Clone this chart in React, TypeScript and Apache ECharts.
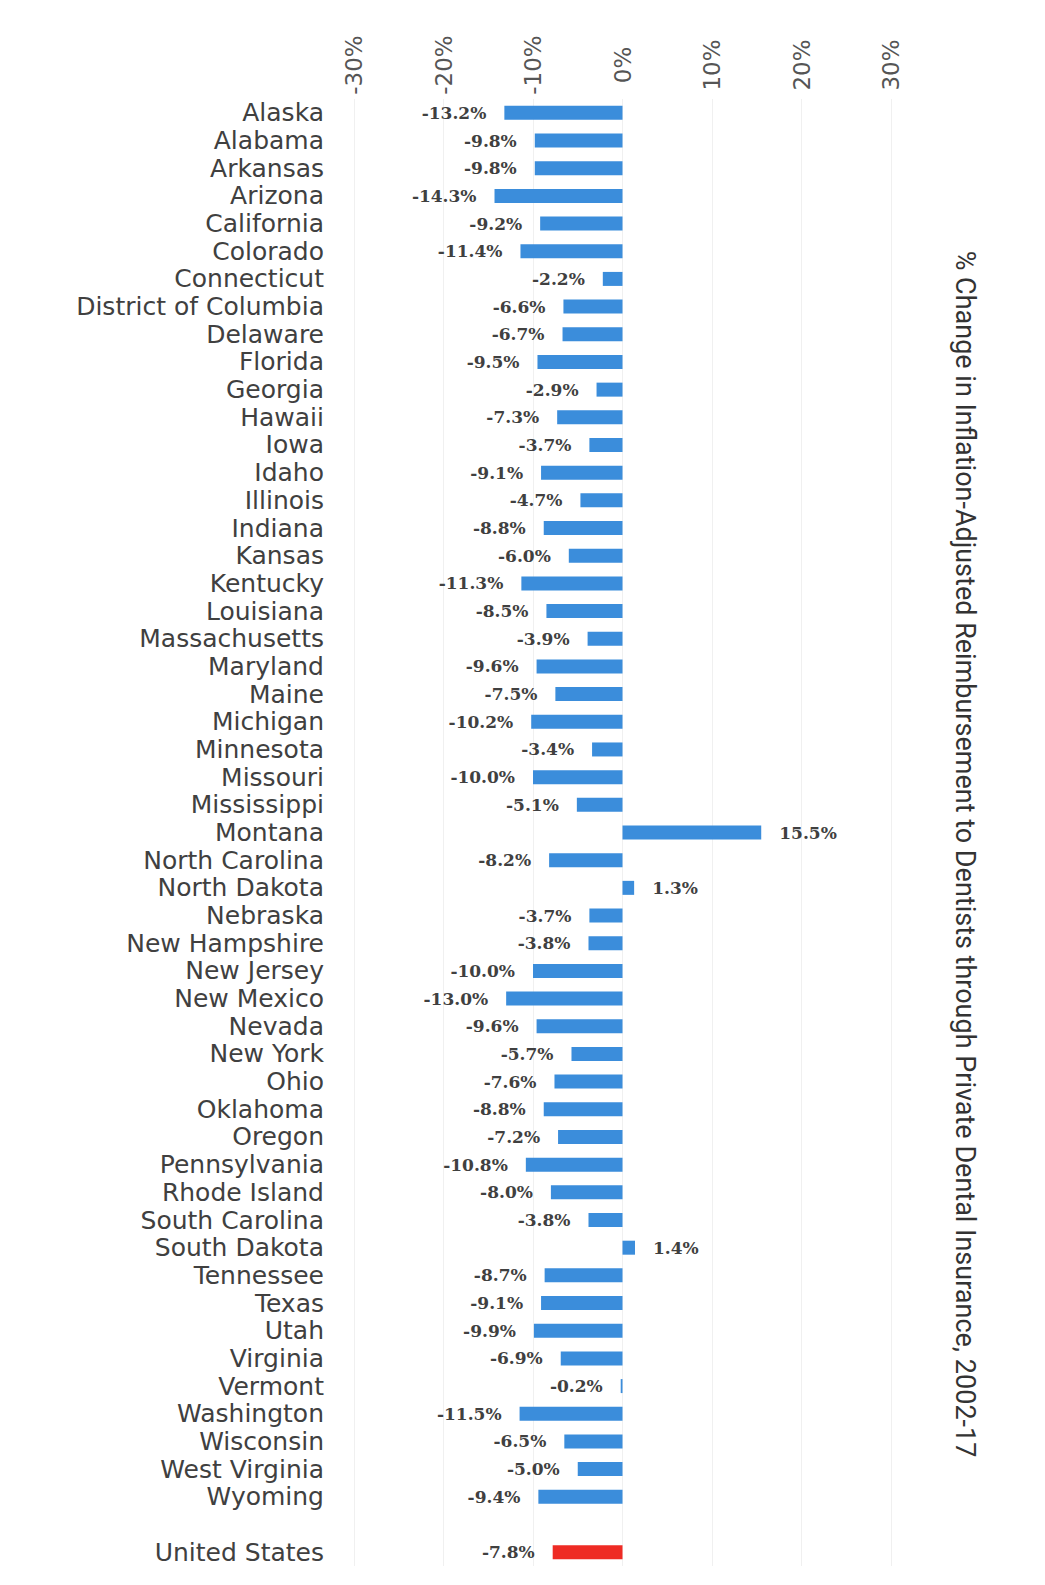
import React, { useEffect, useRef } from "react";
import * as echarts from "echarts";

const states: string[] = [
  "Alaska", "Alabama", "Arkansas", "Arizona", "California", "Colorado", "Connecticut",
  "District of Columbia", "Delaware", "Florida", "Georgia", "Hawaii", "Iowa", "Idaho",
  "Illinois", "Indiana", "Kansas", "Kentucky", "Louisiana", "Massachusetts", "Maryland",
  "Maine", "Michigan", "Minnesota", "Missouri", "Mississippi", "Montana", "North Carolina",
  "North Dakota", "Nebraska", "New Hampshire", "New Jersey", "New Mexico", "Nevada",
  "New York", "Ohio", "Oklahoma", "Oregon", "Pennsylvania", "Rhode Island",
  "South Carolina", "South Dakota", "Tennessee", "Texas", "Utah", "Virginia", "Vermont",
  "Washington", "Wisconsin", "West Virginia", "Wyoming",
];

const stateValues: number[] = [
  -13.2, -9.8, -9.8, -14.3, -9.2, -11.4, -2.2,
  -6.6, -6.7, -9.5, -2.9, -7.3, -3.7, -9.1,
  -4.7, -8.8, -6.0, -11.3, -8.5, -3.9, -9.6,
  -7.5, -10.2, -3.4, -10.0, -5.1, 15.5, -8.2,
  1.3, -3.7, -3.8, -10.0, -13.0, -9.6,
  -5.7, -7.6, -8.8, -7.2, -10.8, -8.0,
  -3.8, 1.4, -8.7, -9.1, -9.9, -6.9, -0.2,
  -11.5, -6.5, -5.0, -9.4,
];

const nationLabel = "United States";
const nationValue = -7.8;

const tickMin = -30;
const tickMax = 30;
const tickStep = 10;

const titleText =
  "% Change in Inflation-Adjusted Reimbursement to Dentists through Private Dental Insurance, 2002-17";

const BLUE = "#3b8ddb";
const RED = "#ee2b24";
const TEXT = "#404040";

export default function App() {
  const ref = useRef<HTMLDivElement>(null);

  useEffect(() => {
    if (!ref.current) return;
    const chart = echarts.init(ref.current, null, { renderer: "svg" });

    const categories = [...states, " ", nationLabel];
    const mkItem = (v: number, color: string) => ({
      value: v,
      itemStyle: { color },
      label: { position: v < 0 ? "left" : "right" },
    });
    const data: any[] = [
      ...stateValues.map((v) => mkItem(v, BLUE)),
      { value: "-", label: { show: false } },
      mkItem(nationValue, RED),
    ];

    chart.setOption({
      animation: false,
      backgroundColor: "#ffffff",
      grid: { left: 354, right: 154, top: 99, bottom: 19 },
      xAxis: {
        type: "value",
        position: "top",
        min: tickMin,
        max: tickMax,
        interval: tickStep,
        axisLine: { show: false },
        axisTick: { show: false },
        splitLine: { show: true, lineStyle: { color: "#f0f0f0", width: 1 } },
        axisLabel: {
          rotate: -90,
          margin: 34,
          align: "center",
          verticalAlign: "middle",
          formatter: (v: number) => `${v}%`,
          fontFamily: "DejaVu Sans",
          fontSize: 23,
          color: "#555555",
        },
      },
      yAxis: {
        type: "category",
        inverse: true,
        data: categories,
        axisLine: { show: false },
        axisTick: { show: false },
        splitLine: { show: false },
        axisLabel: {
          interval: 0,
          margin: 30,
          fontFamily: "DejaVu Sans",
          fontSize: 25,
          lineHeight: 26,
          color: TEXT,
        },
      },
      series: [
        {
          type: "bar",
          data,
          barWidth: 14,
          label: {
            show: true,
            distance: 18,
            formatter: (p: any) => `${Number(p.value).toFixed(1)}%`,
            fontFamily: "DejaVu Serif",
            fontWeight: "bold",
            fontSize: 17,
            color: TEXT,
          },
        },
      ],
      graphic: [
        {
          type: "text",
          x: 965,
          y: 854,
          rotation: -Math.PI / 2,
          style: {
            text: titleText,
            fontFamily: "Roboto",
            fontSize: 27,
            fill: "#333333",
            textAlign: "center",
            textVerticalAlign: "middle",
          },
        },
      ],
    });

    return () => chart.dispose();
  }, []);

  return (
    <div
      ref={ref}
      style={{ position: "absolute", left: 0, top: 0, width: 1045, height: 1585 }}
    />
  );
}
